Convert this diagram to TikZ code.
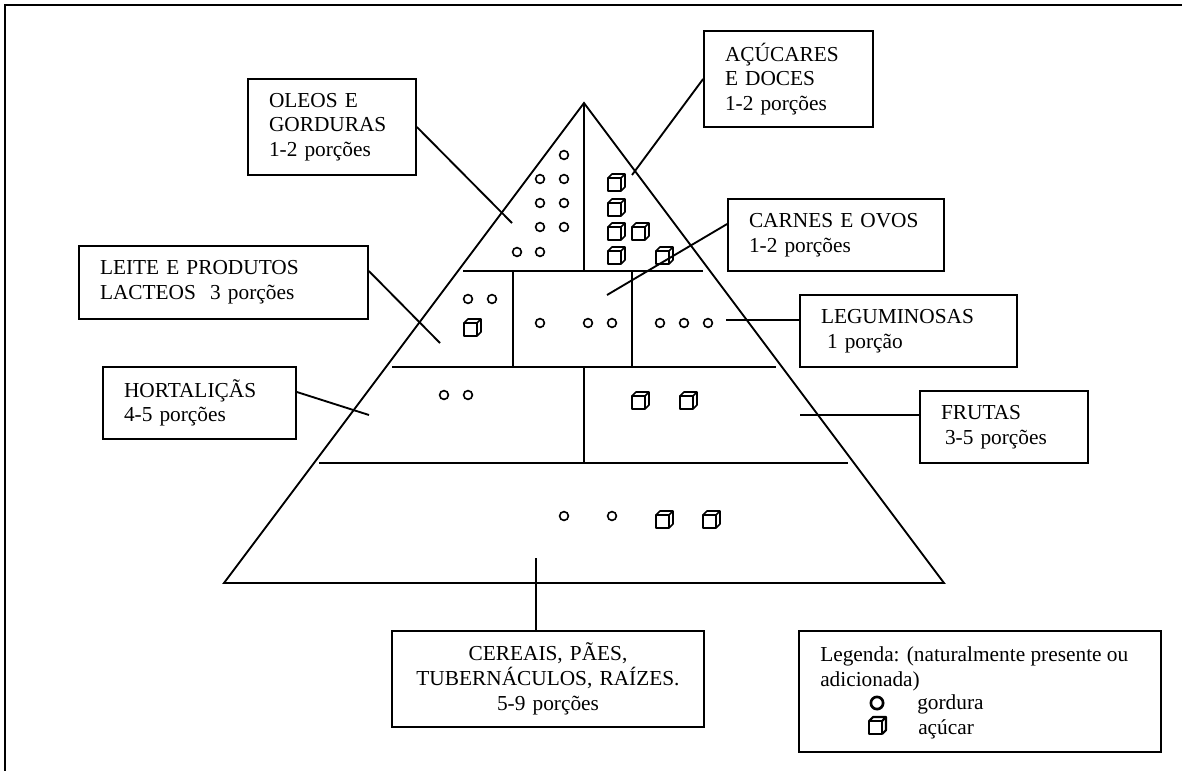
\documentclass[tikz,border=0pt]{standalone}
\usepackage{fontspec}
\setmainfont{Liberation Serif}
\newcommand{\fsz}{\fontsize{16}{18.5}\selectfont}
\tikzset{
  box/.style={draw, line width=1.3pt, rectangle, inner xsep=15.75pt, inner ysep=0pt, align=left, font=\fsz},
  ln/.style={line width=1.4pt},
  dotc/.style={line width=1.2pt},
  sugarcube/.pic={
    \draw[line width=1.2pt, line join=round] (0,0) rectangle (13,13);
    \draw[line width=1.2pt, line join=round] (0,0) -- (4,-4) -- (17,-4) -- (13,0);
    \draw[line width=1.2pt, line join=round] (17,-4) -- (17,9) -- (13,13);
  },
  bigcube/.pic={
    \draw[line width=1.6pt, line join=round] (0,0) rectangle (13,13);
    \draw[line width=1.6pt, line join=round] (0,0) -- (4,-4) -- (17,-4) -- (13,0);
    \draw[line width=1.6pt, line join=round] (17,-4) -- (17,9) -- (13,13);
  }
}
\begin{document}
\begin{tikzpicture}[x=0.75pt,y=-0.75pt]
\useasboundingbox (0,0) rectangle (1182,771);
% frame
\draw[line width=1.5pt] (5,771) -- (5,5) -- (1182,5);

% pyramid
\draw[ln, line join=miter] (584,103) -- (224,583) -- (944,583) -- cycle;
\draw[ln] (584,103) -- (584,271);
\draw[ln] (463,271) -- (703,271);
\draw[ln] (513,271) -- (513,367);
\draw[ln] (632,271) -- (632,367);
\draw[ln] (392,367) -- (776,367);
\draw[ln] (584,367) -- (584,463);
\draw[ln] (319,463) -- (848,463);

% circles (gordura)
\foreach \p in {(564,155),(540,179),(564,179),(540,203),(564,203),(540,227),(564,227),(517,252),(540,252),
  (468,299),(492,299),(540,323),(588,323),(612,323),(660,323),(684,323),(708,323),
  (444,395),(468,395),(564,516),(612,516)}
  \draw[dotc] \p circle[radius=3.3pt];

% cubes (acucar)
\foreach \p in {(608,178),(608,203),(608,227),(632,227),(608,251),(656,251),
  (464,323),(632,396),(680,396),(656,515),(703,515)}
  \pic at \p {sugarcube};

% label boxes
\node[box, text width=94.5pt, minimum height=72pt] (ole) at (332,127) {OLEOS E\\GORDURAS\\1-2 porções};
\node[box, text width=95.25pt, minimum height=72pt] (acu) at (788.5,79) {AÇÚCARES\\E DOCES\\1-2 porções};
\node[box, text width=130.5pt, minimum height=54pt] (car) at (836,235) {CARNES E OVOS\\1-2 porções};
\node[box, text width=185.25pt, minimum height=54.75pt] (lei) at (223.5,282.5) {LEITE E PRODUTOS\\LACTEOS\ \ 3 porções};
\node[box, text width=131.25pt, minimum height=54pt] (leg) at (908.5,331) {LEGUMINOSAS\\\hspace*{4.5pt}1 porção};
\node[box, text width=113.25pt, minimum height=54pt] (hor) at (199.5,403) {HORTALIÇÃS\\4-5 porções};
\node[box, text width=94.5pt, minimum height=54pt] (fru) at (1004,427) {FRUTAS\\\hspace*{3pt}3-5 porções};
\node[box, align=center, inner xsep=12pt, text width=210pt, minimum height=72pt] (cer) at (548,679) {CEREAIS, PÃES,\\TUBERNÁCULOS, RAÍZES.\\5-9 porções};

% connectors
\coordinate (olep) at (512,223);
\coordinate (acup) at (632,175);
\coordinate (carp) at (607,295);
\coordinate (leip) at (440,343);
\coordinate (legc) at (726,320);
\coordinate (fruc) at (800,415);
\coordinate (horp) at (369,415);
\coordinate (cerc) at (536,558);
\draw[ln] (ole.east) -- (olep);
\draw[ln] (acu.west) -- (acup);
\draw[ln] ([yshift=8.25pt]car.west) -- (carp);
\draw[ln] ([yshift=8.6pt]lei.east) -- (leip);
\draw[ln] (legc) -- (legc -| leg.west);
\draw[ln] (fruc) -- (fruc -| fru.west);
\draw[ln] ([yshift=8.25pt]hor.east) -- (horp);
\draw[ln] (cerc) -- (cerc |- cer.north);

% legend
\node[draw, line width=1.3pt, minimum width=271.5pt, minimum height=90.75pt, inner sep=0pt] (lgb) at (980,691.5) {};
\node[anchor=base west, inner sep=0pt, font=\fsz] (lg1) at (820,661) {Legenda: (naturalmente presente ou};
\node[anchor=base west, inner sep=0pt, font=\fsz] (lg2) at (820,686) {adicionada)};
\node[anchor=base west, inner sep=0pt, font=\fsz] (lg3) at (917,709) {gordura};
\node[anchor=base west, inner sep=0pt, font=\fsz] (lg4) at (918,734) {açúcar};
\draw[line width=2pt] (877,703) circle[radius=4.6pt];
\pic at (869,721) {bigcube};
\end{tikzpicture}
\end{document}
